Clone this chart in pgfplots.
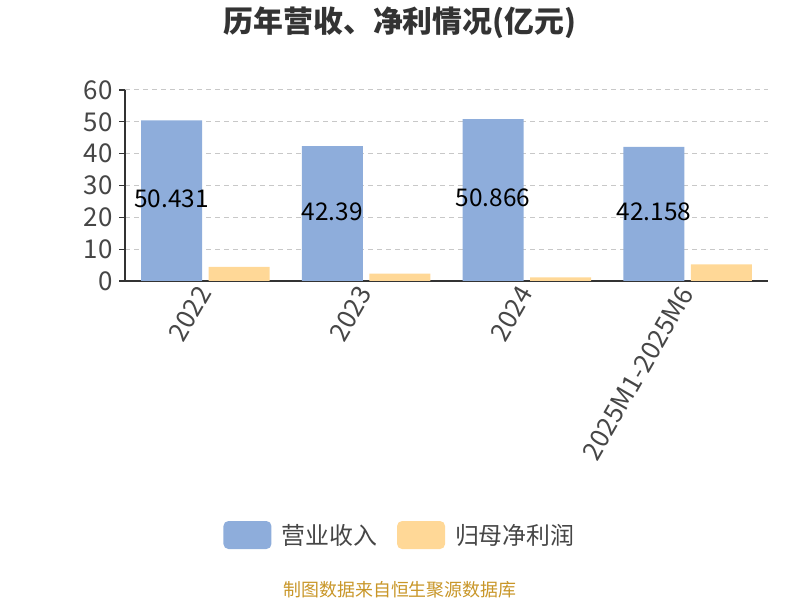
\documentclass[border=0pt]{standalone}
\usepackage{fontspec}
\setmainfont{Noto Sans CJK SC}
\usepackage{pgfplots}
\pgfplotsset{compat=1.18}
\definecolor{revblue}{RGB}{142,173,219}
\definecolor{profor}{RGB}{255,216,151}
\definecolor{txtgray}{RGB}{51,51,51}
\definecolor{ticktxt}{RGB}{70,70,70}
\definecolor{footgold}{RGB}{200,150,40}
\definecolor{gridgray}{RGB}{200,200,200}
\begin{document}
\begin{tikzpicture}[x=1bp,y=1bp]
\path[use as bounding box] (0,0) rectangle (800,600);
\node[font=\fontsize{30}{33}\selectfont\bfseries, text=txtgray] at (400,577) {历年营收、净利情况(亿元)};
\node[font=\fontsize{18}{20}\selectfont, text=footgold] at (400,10) {制图数据来自恒生聚源数据库};
\begin{axis}[
  at={(125bp,319bp)}, anchor=south west,
  scale only axis, width=643bp, height=191bp,
  xmin=-0.5, xmax=3.5, ymin=0, ymax=60,
  ytick={0,10,...,60},
  xtick={0,1,2,3},
  xticklabels={2022,2023,2024,2025M1-2025M6},
  major x tick style={draw=none},
  extra x ticks={-0.5,0.5,1.5,2.5,3.5},
  extra x tick labels={},
  extra x tick style={major tick length=6bp, tick style={draw=txtgray, line width=1.2bp}, xtick pos=bottom, tick align=outside, grid=none},
  xtick pos=bottom,
  ytick pos=left,
  tick align=outside,
  major tick length=6bp,
  y tick style={draw=txtgray, line width=1.2bp},
  axis x line*=bottom, axis y line*=left,
  axis line style={draw=txtgray, line width=1.2bp, -},
  ymajorgrids, grid style={dashed, gridgray, line width=1bp, dash pattern=on 5bp off 4bp},
  tick label style={font=\fontsize{26}{28}\selectfont, text=ticktxt},
  yticklabel style={xshift=-3bp},
  xticklabel style={rotate=60, anchor=east, inner sep=2bp},
  /pgf/number format/assume math mode=true,
  legend columns=2,
  legend style={at={(0.4277,-1.33)}, anchor=center, draw=none, fill=none,
    font=\fontsize{24}{27}\selectfont, text=ticktxt,
    /tikz/every odd column/.append style={column sep=8bp},
    /tikz/every even column/.append style={column sep=18bp}},
  legend image code/.code={\fill[#1, rounded corners=5bp] (0bp,-14bp) rectangle (48bp,14bp);},
  clip=false,
]
\addplot[ybar, bar width=0.38, bar shift=-0.21, fill=revblue, draw=none,
  nodes near coords, point meta=explicit symbolic,
  visualization depends on={rawy \as \rawy},
  every node near coord/.style={anchor=center, font=\fontsize{24.5}{27}\selectfont, text=black,
    xshift=-33.76bp, yshift={-\rawy*1.5917bp+2bp}},
  ] table[meta=lab] {
x y lab
0 50.431 50.431
1 42.39 42.39
2 50.866 50.866
3 42.158 42.158
};
\addlegendentry{营业收入}
\addplot[ybar, bar width=0.38, bar shift=0.21, fill=profor, draw=none] coordinates {
(0,4.4) (1,2.3) (2,1.1) (3,5.2)
};
\addlegendentry{归母净利润}
\end{axis}
\end{tikzpicture}
\end{document}
